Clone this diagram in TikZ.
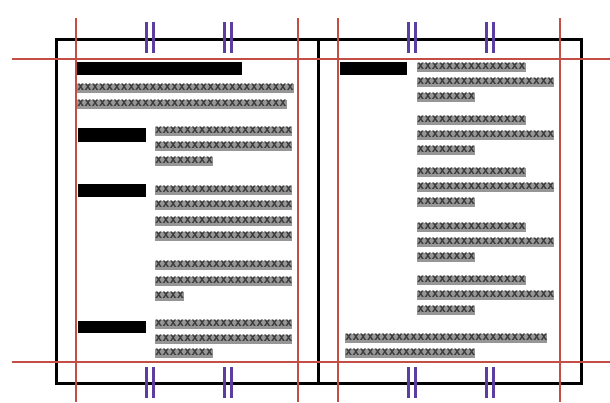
\documentclass[tikz,border=0pt]{standalone}
\usepackage{fontspec}
\newfontfamily\barfont{DejaVu Sans Mono}
\definecolor{guide}{RGB}{196,78,68}
\definecolor{tick}{RGB}{92,62,160}
\definecolor{bartxt}{RGB}{60,60,60}
\definecolor{barbg}{RGB}{150,150,150}
\tikzset{
  frame/.style={line width=3.2pt, draw=black},
  guideline/.style={line width=1.7pt, draw=guide},
  tickline/.style={line width=3pt, draw=tick},
  xline/.style={anchor=west, inner xsep=0pt, inner ysep=0pt, minimum height=9pt,
    text height=5.4pt, text depth=0pt, fill=barbg, text=bartxt,
    font=\barfont\bfseries\fontsize{12}{12}\selectfont},
  headbar/.style={fill=black, draw=none, inner sep=0pt, anchor=north west}
}
\begin{document}
\begin{tikzpicture}[x=1pt,y=-1pt]
\useasboundingbox[fill=white] (0,0) rectangle (610,402);
% pages
\node[frame, inner sep=0pt, minimum width=262pt, minimum height=344pt, anchor=north west] (lpage) at (55,38) {};
\node[frame, inner sep=0pt, minimum width=263pt, minimum height=344pt, anchor=north west] (rpage) at (317,38) {};
% guides
\coordinate (gtl) at (12,59); \coordinate (gtr) at (610,59);
\coordinate (gbl) at (12,362); \coordinate (gbr) at (610,362);
\draw[guideline] (gtl) -- (gtr);
\draw[guideline] (gbl) -- (gbr);
\foreach \gx/\gn in {76/a,298/b,338/c,560/d}{
  \coordinate (v\gn t) at (\gx,18); \coordinate (v\gn b) at (\gx,402);
  \draw[guideline] (v\gn t) -- (v\gn b);
}
% ticks
\foreach \tx/\tn in {150/a,228/b,412/c,490/d}{
  \foreach \dx/\dn in {-3.8/l,3.8/r}{
    \coordinate (t\tn\dn1) at (\tx+\dx,22); \coordinate (t\tn\dn2) at (\tx+\dx,53);
    \coordinate (t\tn\dn3) at (\tx+\dx,367); \coordinate (t\tn\dn4) at (\tx+\dx,398);
    \draw[tickline] (t\tn\dn1) -- (t\tn\dn2);
    \draw[tickline] (t\tn\dn3) -- (t\tn\dn4);
  }
}
% left page
\node[headbar, minimum width=165pt, minimum height=13pt] (ltitle) at (77,62) {};
\node[xline] (l1) at (77,88) {xxxxxxxxxxxxxxxxxxxxxxxxxxxxxx};
\node[xline] (l2) at (77,104) {xxxxxxxxxxxxxxxxxxxxxxxxxxxxx};
\node[headbar, minimum width=68pt, minimum height=14pt] (lh1) at (78,128) {};
\node[xline] (a1) at (155,131) {xxxxxxxxxxxxxxxxxxx};
\node[xline] (a2) at (155,146) {xxxxxxxxxxxxxxxxxxx};
\node[xline] (a3) at (155,161) {xxxxxxxx};
\node[headbar, minimum width=68pt, minimum height=13pt] (lh2) at (78,184) {};
\node[xline] (b1) at (155,190) {xxxxxxxxxxxxxxxxxxx};
\node[xline] (b2) at (155,205) {xxxxxxxxxxxxxxxxxxx};
\node[xline] (b3) at (155,221) {xxxxxxxxxxxxxxxxxxx};
\node[xline] (b4) at (155,236) {xxxxxxxxxxxxxxxxxxx};
\node[xline] (b5) at (155,265) {xxxxxxxxxxxxxxxxxxx};
\node[xline] (b6) at (155,281) {xxxxxxxxxxxxxxxxxxx};
\node[xline] (b7) at (155,296) {xxxx};
\node[headbar, minimum width=68pt, minimum height=12pt] (lh3) at (78,321) {};
\node[xline] (c1) at (155,324) {xxxxxxxxxxxxxxxxxxx};
\node[xline] (c2) at (155,339) {xxxxxxxxxxxxxxxxxxx};
\node[xline] (c3) at (155,353) {xxxxxxxx};
% right page
\node[headbar, minimum width=67pt, minimum height=13pt] (rh) at (340,62) {};
\foreach \gy/\gn in {67/p,120/q,172/r,227/s,280/t}{
  \node[xline] (\gn1) at (417,\gy) {xxxxxxxxxxxxxxx};
  \node[xline] (\gn2) at (417,\gy+15) {xxxxxxxxxxxxxxxxxxx};
  \node[xline] (\gn3) at (417,\gy+30) {xxxxxxxx};
}
\node[xline] (r1) at (345,338) {xxxxxxxxxxxxxxxxxxxxxxxxxxxx};
\node[xline] (r2) at (345,353) {xxxxxxxxxxxxxxxxxx};
\end{tikzpicture}
\end{document}
